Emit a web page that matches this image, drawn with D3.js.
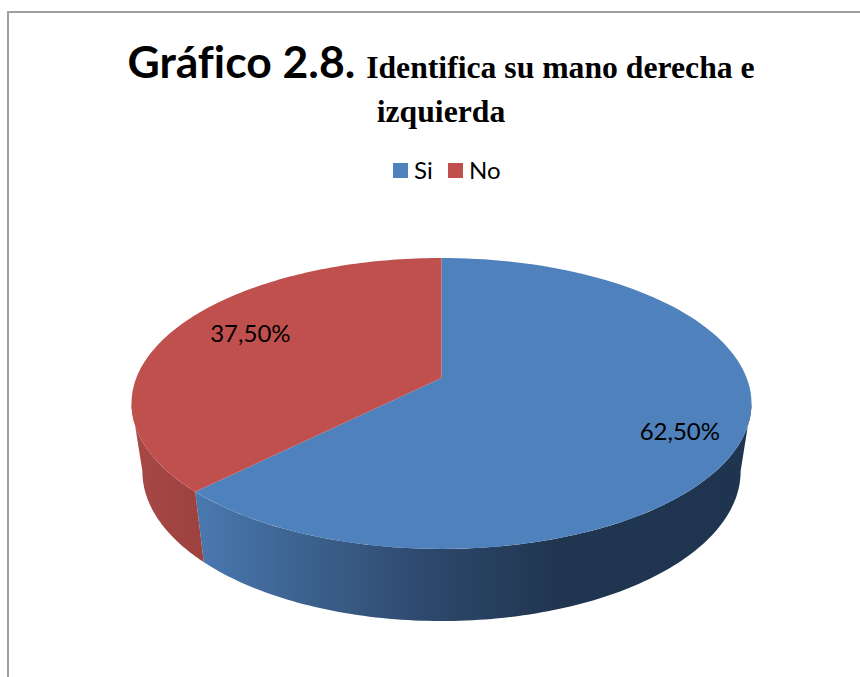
<!DOCTYPE html>
<html>
<head>
<meta charset="utf-8">
<script src="https://cdn.jsdelivr.net/npm/d3@7"></script>
<style>
  html, body { margin: 0; padding: 0; background: #fff; }
  svg { display: block; }
  text { font-variant-ligatures: none; }
</style>
</head>
<body>
<div id="chart"></div>
<script>
// Chart values
var categories = ["Si", "No"];
var values = [62.5, 37.5];
var valueLabels = ["62,50%", "37,50%"];
var colors = ["#4f81bd", "#c0504d"];

var w = 860, h = 677;

var svg = d3.select("#chart").append("svg")
    .attr("width", w)
    .attr("height", h);

// chart frame, only top and left edges are visible
svg.append("path")
    .attr("d", d3.line()([[860, 12], [8, 12], [8, 677]]))
    .style("fill", "none")
    .style("stroke", "#a0a0a0")
    .style("stroke-width", 2);

// Title
var title = svg.append("text")
    .attr("x", 441)
    .attr("y", 78)
    .attr("text-anchor", "middle");
title.append("tspan")
    .style("font-family", "Lato")
    .style("font-weight", "bold")
    .style("font-size", "44.5px")
    .text("Gráfico 2.8. ");
title.append("tspan")
    .style("font-family", "'Liberation Serif'")
    .style("font-weight", "bold")
    .style("font-size", "31.7px")
    .text("Identifica su mano derecha e");

svg.append("text")
    .attr("x", 441)
    .attr("y", 122)
    .attr("text-anchor", "middle")
    .style("font-family", "'Liberation Serif'")
    .style("font-weight", "bold")
    .style("font-size", "31.7px")
    .text("izquierda");

// Legend
var legendX = [393, 448];
var legend = svg.selectAll(".legend")
    .data(categories)
    .enter().append("g")
    .attr("class", "legend")
    .attr("transform", function(d, i) { return "translate(" + legendX[i] + ",163)"; });
legend.append("rect")
    .attr("width", 15)
    .attr("height", 15)
    .style("fill", function(d, i) { return colors[i]; });
legend.append("text")
    .attr("x", 21)
    .attr("y", 16)
    .style("font-family", "Lato")
    .style("font-size", "24px")
    .style("fill", "#000")
    .text(function(d) { return d; });

// Perspective of the pie disc: unit circle -> screen
var cx = 441.5, apexY = 378;
var persp = 0.175, scaleX = 305.2, scaleY = 141;

function topPoint(angle, r) {
    var u = r * Math.sin(angle);
    var v = -r * Math.cos(angle);
    var d = 1 - persp * v;
    return [cx + scaleX * u / d, apexY + scaleY * v / d];
}

// lower rim of the pie, seen a bit narrower than the top
function bottomPoint(angle) {
    var p = topPoint(angle, 1);
    return [cx + (p[0] - cx) * 0.965, apexY + 67 + (p[1] - apexY) * 1.03];
}

function sample(a0, a1) {
    return d3.range(0, 121).map(function(i) {
        return a0 + (a1 - a0) * i / 120;
    });
}

var pie = d3.pie().sort(null);
var slices = pie(values);
var line = d3.line();

// wall gradients
var defs = svg.append("defs");
function wallGradient(id, stops) {
    var g = defs.append("linearGradient")
        .attr("id", id)
        .attr("gradientUnits", "userSpaceOnUse")
        .attr("x1", 132).attr("x2", 751)
        .attr("y1", 0).attr("y2", 0);
    stops.forEach(function(s) {
        g.append("stop").attr("offset", s[0]).attr("stop-color", s[1]);
    });
}
wallGradient("wall0", [[0.09, "#4a7ab3"], [0.27, "#3d6390"], [0.46, "#2f4a6f"], [0.69, "#20354f"], [1, "#1f344e"]]);
wallGradient("wall1", [[0, "#a84845"], [0.11, "#9c423f"]]);

// Walls, only the front part of the rim from 100 to 260 degrees
var rimStart = 100 * Math.PI / 180, rimEnd = 260 * Math.PI / 180;
slices.forEach(function(s, i) {
    var a0 = Math.max(s.startAngle, rimStart);
    var a1 = Math.min(s.endAngle, rimEnd);
    if (a1 <= a0) return;
    var pts = sample(a0, a1).map(function(a) { return topPoint(a, 1); })
        .concat(sample(a1, a0).map(bottomPoint));
    svg.append("path")
        .attr("d", line(pts) + "Z")
        .style("fill", "url(#wall" + i + ")");
});

// Top of the pie
slices.forEach(function(s, i) {
    var pts = [topPoint(0, 0)].concat(sample(s.startAngle, s.endAngle).map(function(a) {
        return topPoint(a, 1);
    }));
    svg.append("path")
        .attr("d", line(pts) + "Z")
        .style("fill", colors[i]);
});

// Value labels
var labelRadius = [0.8, 0.71];
var labelDy = [16, 1];
slices.forEach(function(s, i) {
    var p = topPoint((s.startAngle + s.endAngle) / 2, labelRadius[i]);
    svg.append("text")
        .attr("x", p[0])
        .attr("y", p[1] + labelDy[i])
        .attr("text-anchor", "middle")
        .style("font-family", "Lato")
        .style("font-size", "24px")
        .style("fill", "#000")
        .text(valueLabels[i]);
});
</script>
</body>
</html>
